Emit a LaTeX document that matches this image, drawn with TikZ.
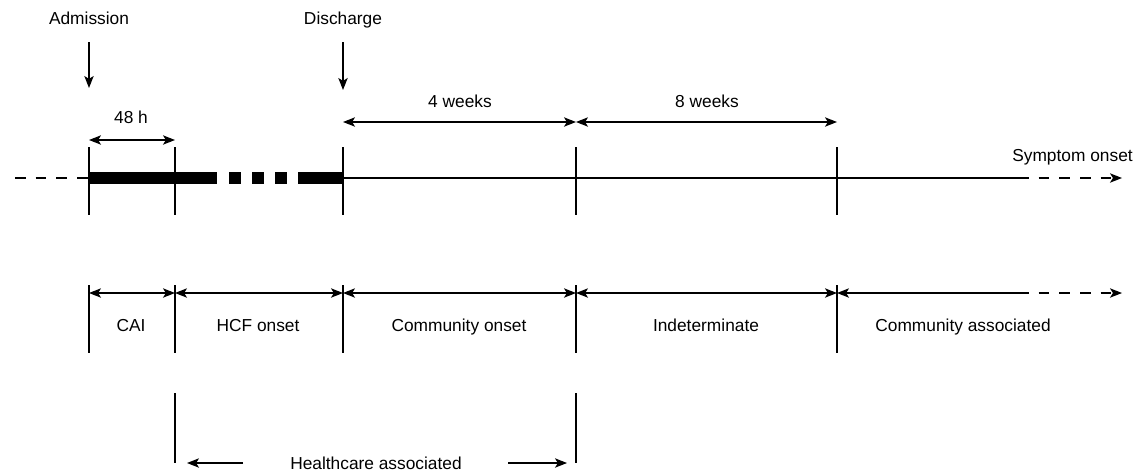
\documentclass[tikz,border=0pt]{standalone}
\usepackage{fontspec}
\setmainfont{Liberation Sans}
\usetikzlibrary{arrows.meta}
\tikzset{
  lbl/.style={font=\fontsize{13pt}{15pt}\selectfont, inner sep=0pt, anchor=base},
  tick/.style={line width=.9pt},
  dim/.style={<->, line width=.9pt},
  fade/.style={line width=.9pt, dash pattern=on 8pt off 7.5pt}
}
\begin{document}
\begin{tikzpicture}[>={Stealth[length=9pt,width=7pt,inset=2.2pt]},x=.75pt,y=-.75pt]
\useasboundingbox (0,0) rectangle (1134,472);

\foreach \x/\n in {89/a,175/b,343/c,576/d,837/e}
{
   \coordinate (u\n) at (\x,147);
   \coordinate (l\n) at (\x,215);
   \coordinate (p\n) at (\x,293);
   \draw[tick] (\x,285) -- (\x,353);
   \draw[tick] (u\n) -- (l\n);
}

% timeline
\coordinate (start) at (15,178);
\coordinate (fade) at (1018,178);
\coordinate (stop) at (1122,178);
\draw[fade] (start) -- (ua |- start);
\draw[tick] (uc |- start) -- (fade);
\draw[fade,->] (fade) -- (stop);
\foreach \a/\b in {89/217,229/241,252/264,275/287,298/343}
   \draw[line width=9pt] (\a,178) -- (\b,178);

\node[lbl] (adm) at (89,24.5) {Admission};
\node[lbl] (dis) at (343,24.5) {Discharge};
\draw[->,tick] (89,42) -- (89,88);
\draw[->,tick] (343,42) -- (343,90);
\node[lbl,anchor=base east] (sym) at (1133,161.5) {Symptom onset};

\node[lbl] (h48) at (131,123.5) {48 h};
\draw[dim] (89,140) -- (175,140);
\node[lbl] (w4) at (460,107.5) {4 weeks};
\draw[dim] (343,122) -- (576,122);
\node[lbl] (w8) at (707,107.5) {8 weeks};
\draw[dim] (576,122) -- (837,122);

% classes
\draw[dim] (pa) -- (pb);
\draw[dim] (pb) -- (pc);
\draw[dim] (pc) -- (pd);
\draw[dim] (pd) -- (pe);
\coordinate (pf) at (1018,293);
\coordinate (pg) at (1122,293);
\draw[<-,tick] (pe) -- (pf);
\draw[fade,->] (pf) -- (pg);
\node[lbl] (cai) at (131,331.5) {CAI};
\node[lbl] (hcf) at (258,331.5) {HCF onset};
\node[lbl] (com) at (459,331.5) {Community onset};
\node[lbl] (ind) at (706,331.5) {Indeterminate};
\node[lbl] (cas) at (963,331.5) {Community associated};

\draw[tick] (175,393) -- (175,463);
\draw[tick] (576,393) -- (576,463);
\node[lbl] (hca) at (376,469.5) {Healthcare associated};
\draw[->,tick] (243,463) -- (187,463);
\draw[->,tick] (508,463) -- (567,463);
\end{tikzpicture}
\end{document}
